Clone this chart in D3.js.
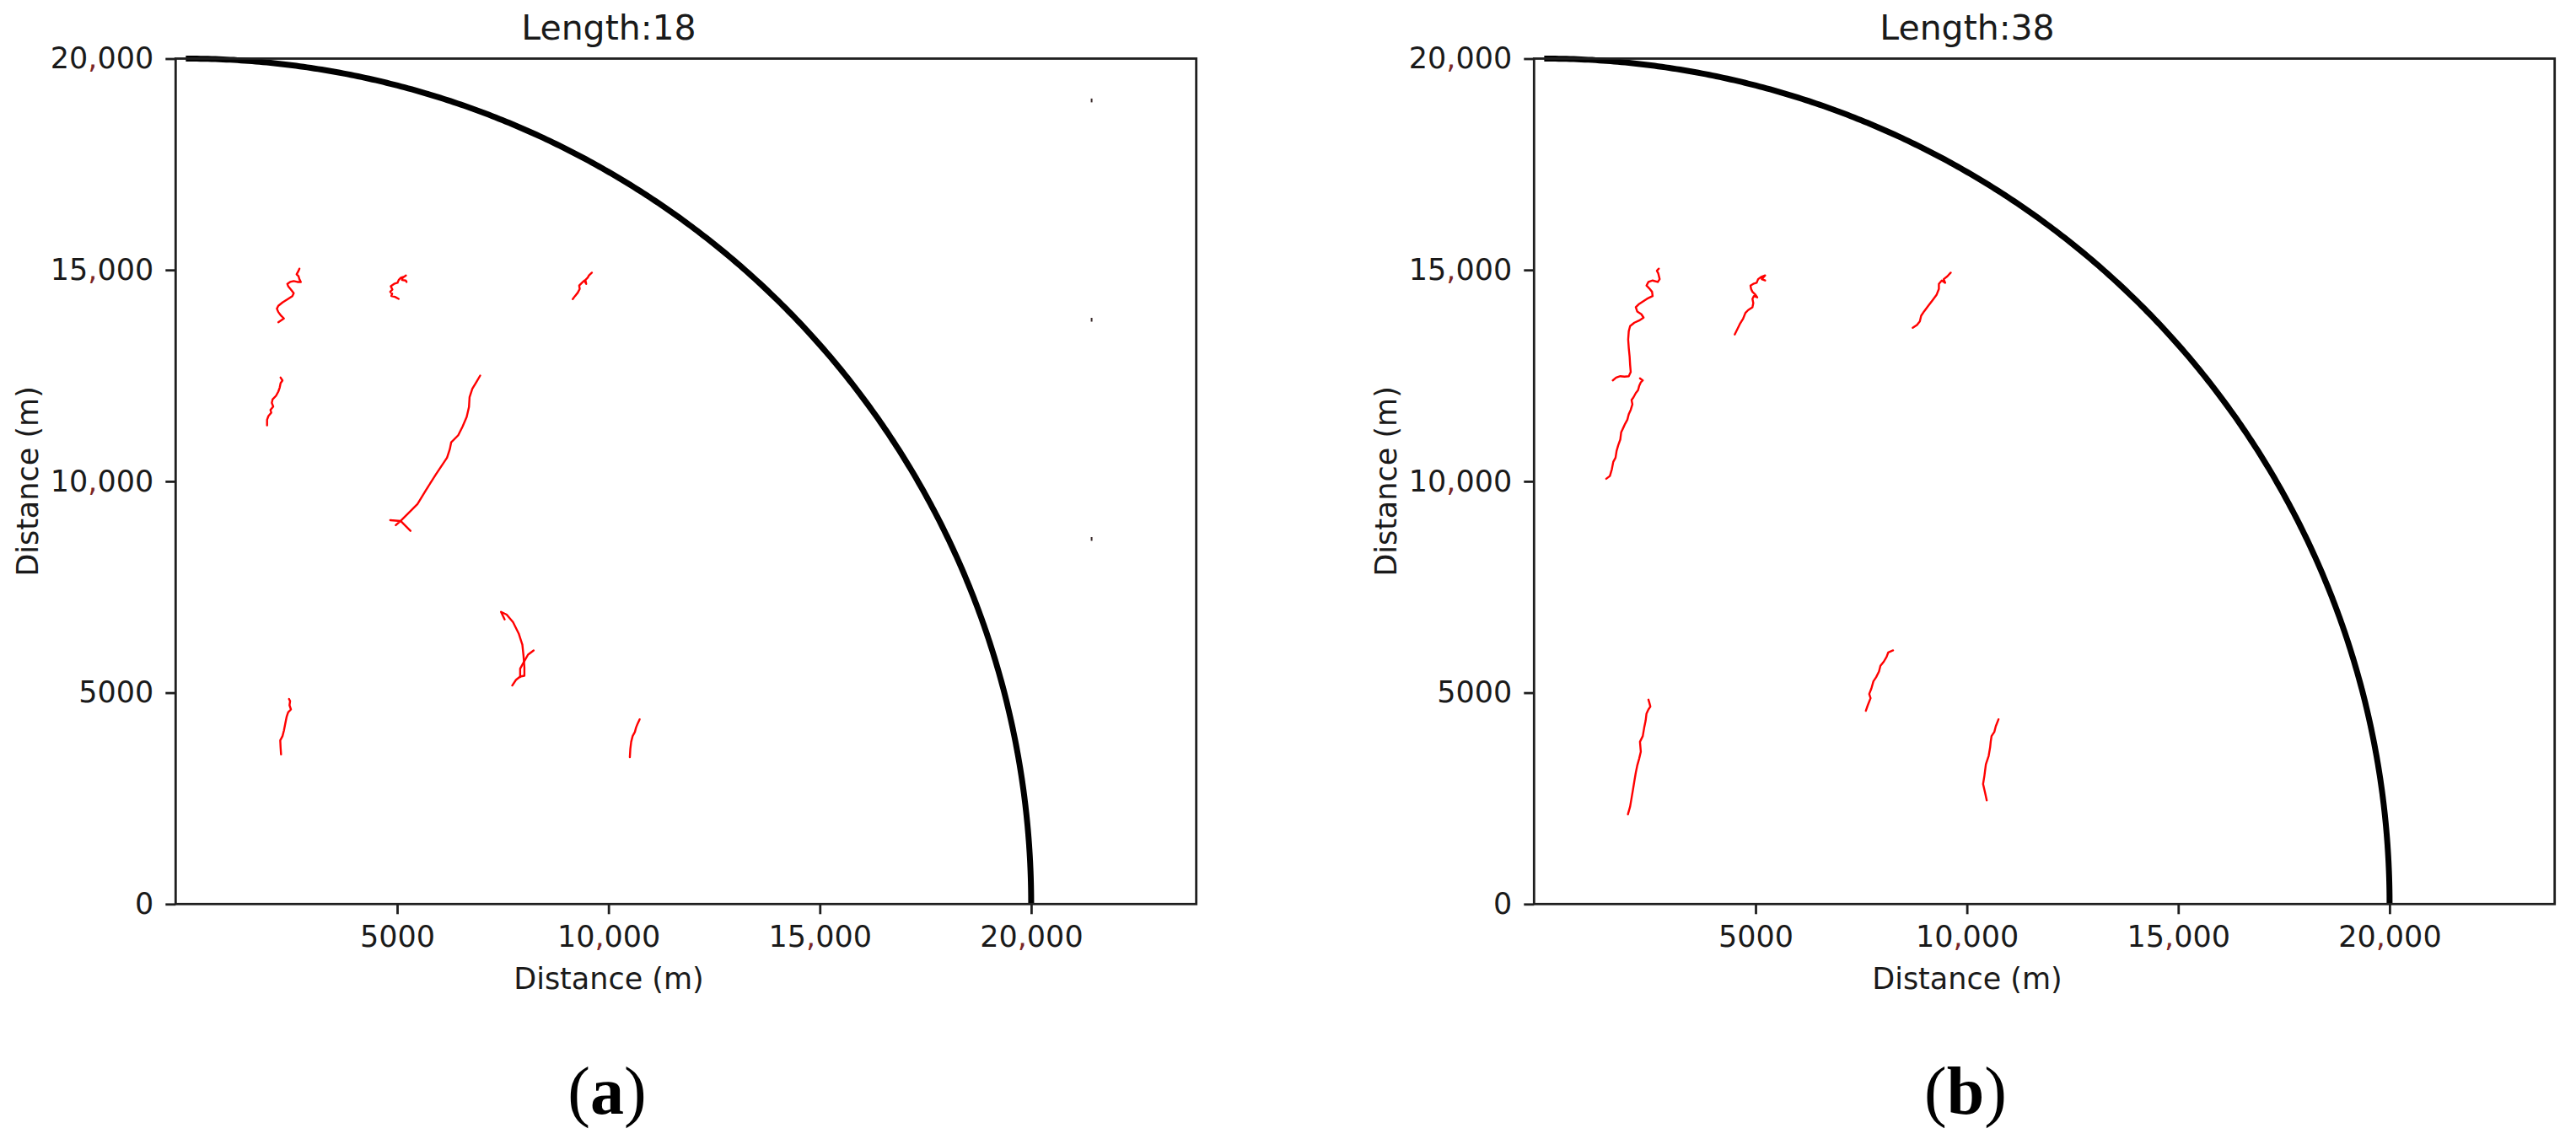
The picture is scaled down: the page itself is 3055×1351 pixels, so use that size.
<!DOCTYPE html>
<html>
<head>
<meta charset="utf-8">
<script src="https://cdn.jsdelivr.net/npm/d3@7"></script>
<style>
  html, body { margin: 0; padding: 0; background: #ffffff; }
  svg { display: block; }
</style>
</head>
<body>
<svg id="chart" width="3055" height="1351"></svg>
<script>
// ---------------- data ----------------
const panelTitles = ["Length:18", "Length:38"];
const panelCaptions = ["a", "b"];
const xTickValues = [5000, 10000, 15000, 20000];
const xTickLabels = ["5000", "10,000", "15,000", "20,000"];
const yTickValues = [0, 5000, 10000, 15000, 20000];
const yTickLabels = ["0", "5000", "10,000", "15,000", "20,000"];
const xLabel = "Distance (m)";
const yLabel = "Distance (m)";
const rangeRadius = 20000;   // detection boundary (quarter circle)
const xDomain = [-241, 23906];
const yDomain = [0, 20000];

// red trajectories, panel (a) Length:18
const tracksLength18 = [
  [[2188,13764],[2321,13852],[2253,13918],[2188,14004],[2154,14084],[2188,14152],[2287,14232],[2421,14317],[2521,14383],[2553,14451],[2487,14537],[2421,14617],[2401,14671],[2467,14716],[2553,14736],[2641,14716],[2721,14716],[2687,14782],[2667,14850],[2621,14896],[2667,14982],[2687,15030]],
  [[5036,14317],[4948,14363],[4862,14383],[4882,14437],[4836,14483],[4888,14537],[4848,14617],[4928,14671],[5008,14696],[5036,14762],[5088,14816],[5168,14842],[5208,14870],[5128,14816],[5116,14762],[5202,14751],[5222,14716]],
  [[9154,14311],[9208,14383],[9273,14463],[9319,14551],[9307,14631],[9373,14697],[9427,14750],[9473,14671],[9453,14762],[9507,14816],[9539,14870],[9607,14936]],
  [[1922,11323],[1922,11457],[1954,11543],[2022,11623],[2002,11689],[2068,11768],[2034,11856],[2054,11942],[2134,12022],[2188,12122],[2222,12221],[2242,12321],[2287,12387],[2242,12455]],
  [[4836,9082],[5082,9062],[4968,8962],[5082,9062],[5315,8828],[5082,9062],[5247,9227],[5481,9461],[5681,9792],[5914,10160],[6180,10559],[6245,10758],[6279,10924],[6445,11090],[6545,11289],[6645,11523],[6699,11756],[6713,11988],[6778,12188],[6878,12355],[6964,12501]],
  [[7723,5170],[7810,5301],[7910,5381],[8010,5401],[8010,5601],[7990,5868],[7962,6134],[7876,6399],[7742,6667],[7591,6846],[7457,6912],[7543,6733]],
  [[7910,5369],[7910,5569],[7990,5714],[8096,5900],[8229,6000]],
  [[10505,3473],[10517,3673],[10537,3838],[10571,3972],[10625,4072],[10651,4172],[10691,4271],[10737,4371]],
  [[2253,3539],[2242,3705],[2234,3872],[2287,3972],[2321,4104],[2353,4271],[2387,4437],[2421,4537],[2487,4603],[2453,4703],[2467,4802],[2441,4850]]
];
// tiny stray marks near the right border, panel (a)
const strayMarksLength18 = [[21430,19010],[21430,13822],[21430,8637]];

// red trajectories, panel (b) Length:38
const tracksLength38 = [
  [[1621,12387],[1701,12455],[1800,12487],[1900,12475],[2000,12487],[2046,12587],[2032,12754],[2020,12954],[2000,13154],[1986,13353],[2000,13553],[2032,13673],[2132,13752],[2246,13804],[2351,13872],[2299,13952],[2200,14018],[2166,14118],[2232,14184],[2331,14251],[2431,14317],[2565,14383],[2551,14483],[2485,14563],[2419,14631],[2465,14716],[2565,14750],[2685,14716],[2731,14782],[2699,14916],[2665,14982],[2711,15030]],
  [[1467,10060],[1553,10126],[1601,10291],[1633,10459],[1687,10559],[1713,10725],[1752,10858],[1800,10990],[1820,11158],[1866,11257],[1912,11357],[1966,11457],[2000,11589],[2046,11689],[2086,11822],[2066,11922],[2112,11988],[2166,12088],[2220,12156],[2246,12255],[2285,12341],[2331,12387],[2265,12435]],
  [[4507,13473],[4561,13585],[4627,13719],[4707,13852],[4760,13984],[4826,14052],[4926,14118],[4946,14218],[4926,14317],[4960,14383],[5040,14351],[4994,14417],[4926,14483],[4894,14551],[4880,14631],[4946,14671],[5026,14697],[5060,14782],[5126,14830],[5226,14870],[5146,14782],[5226,14750]],
  [[8719,13633],[8818,13699],[8886,13784],[8918,13918],[8986,14018],[9086,14152],[9186,14283],[9285,14417],[9337,14551],[9337,14671],[9405,14750],[9485,14697],[9451,14782],[9537,14850],[9617,14936]],
  [[1980,2122],[2032,2307],[2066,2507],[2100,2707],[2132,2906],[2166,3106],[2200,3273],[2246,3439],[2285,3605],[2265,3838],[2331,3972],[2365,4172],[2399,4337],[2419,4503],[2465,4603],[2511,4671],[2485,4770],[2465,4836]],
  [[7609,4571],[7655,4703],[7721,4870],[7689,4970],[7741,5102],[7788,5269],[7854,5369],[7920,5501],[7954,5635],[8034,5735],[8100,5848],[8140,5954],[8253,6000]],
  [[10469,2455],[10429,2641],[10383,2840],[10415,3040],[10449,3305],[10515,3505],[10549,3705],[10563,3838],[10583,3972],[10649,4072],[10683,4204],[10748,4371]]
];
const strayMarksLength38 = [];

const panelTracks = [tracksLength18, tracksLength38];
const panelStrays = [strayMarksLength18, strayMarksLength38];

// ---------------- layout ----------------
const FONT = "'DejaVu Sans', sans-serif";
const panelLeft = [208.3, 1819.3];
const plotW = 1210.4, plotTop = 69.5, plotH = 1002.8;
const commaColor = "#7b2626";
const inkColor = "#1a1a1a";

const svg = d3.select("#chart");
svg.append("rect").attr("width", 3055).attr("height", 1351).attr("fill", "#ffffff");

function colorCommas(sel) {
  sel.each(function () {
    const t = d3.select(this);
    const s = t.text();
    t.text(null);
    s.split(/(,)/).forEach(part => {
      if (part === "") return;
      t.append("tspan").attr("fill", part === "," ? commaColor : inkColor).text(part);
    });
  });
}

panelTitles.forEach((title, i) => {
  const g = svg.append("g").attr("transform", `translate(${panelLeft[i]},${plotTop})`);
  const x = d3.scaleLinear().domain(xDomain).range([0, plotW]);
  const y = d3.scaleLinear().domain(yDomain).range([plotH, 0]);

  // boundary arc
  const angles = d3.range(0, 90.01, 0.25).map(a => a * Math.PI / 180);
  const arcPts = angles.map(a => [rangeRadius * Math.cos(a), rangeRadius * Math.sin(a)]);
  const line = d3.line().x(d => x(d[0])).y(d => y(d[1]));
  g.append("path").datum(arcPts).attr("d", line)
    .attr("fill", "none").attr("stroke", "#000").attr("stroke-width", 7);

  // red tracks
  g.selectAll("path.track").data(panelTracks[i]).join("path")
    .attr("class", "track").attr("d", line)
    .attr("fill", "none").attr("stroke", "#ff0000").attr("stroke-width", 2.4)
    .attr("stroke-linejoin", "round").attr("stroke-linecap", "round");

  // stray marks
  g.selectAll("line.stray").data(panelStrays[i]).join("line")
    .attr("class", "stray")
    .attr("x1", d => x(d[0])).attr("x2", d => x(d[0]))
    .attr("y1", d => y(d[1] - 45)).attr("y2", d => y(d[1] + 45))
    .attr("stroke", "#3a2a2a").attr("stroke-width", 2);

  // frame
  g.append("rect").attr("x", 0).attr("y", 0).attr("width", plotW).attr("height", plotH)
    .attr("fill", "none").attr("stroke", "#1f1f1f").attr("stroke-width", 2.8);

  // axes
  const xAxis = d3.axisBottom(x).tickValues(xTickValues)
    .tickFormat((d, k) => xTickLabels[k]).tickSize(12).tickPadding(14);
  const yAxis = d3.axisLeft(y).tickValues(yTickValues)
    .tickFormat((d, k) => yTickLabels[k]).tickSize(12).tickPadding(14);

  const gx = g.append("g").attr("transform", `translate(0,${plotH})`).call(xAxis);
  const gy = g.append("g").call(yAxis);
  [gx, gy].forEach(ax => {
    ax.select(".domain").remove();
    ax.selectAll(".tick line").attr("stroke", "#1f1f1f").attr("stroke-width", 2.8);
    ax.selectAll(".tick text").attr("font-family", FONT).attr("font-size", 35).attr("fill", inkColor);
    ax.selectAll(".tick text").call(colorCommas);
  });

  // title
  const cx = 722 + (panelLeft[i] - panelLeft[0]) - panelLeft[i];
  g.append("text").attr("x", cx).attr("y", 47 - plotTop)
    .attr("text-anchor", "middle").attr("font-family", FONT).attr("font-size", 41)
    .attr("fill", inkColor).text(title);

  // x label
  g.append("text").attr("x", cx).attr("y", 1173 - plotTop)
    .attr("text-anchor", "middle").attr("font-family", FONT).attr("font-size", 35)
    .attr("fill", inkColor).text(xLabel);

  // y label
  g.append("text").attr("transform", `translate(${45 - 208.3},${571 - plotTop}) rotate(-90)`)
    .attr("text-anchor", "middle").attr("font-family", FONT).attr("font-size", 35)
    .attr("fill", inkColor).text(yLabel);

  // caption (a)/(b)
  const cap = g.append("text").attr("x", cx - 2).attr("y", 1321 - plotTop)
    .attr("text-anchor", "middle").attr("font-family", "'Liberation Serif', serif")
    .attr("font-size", 80).attr("fill", "#000");
  cap.append("tspan").text("(");
  cap.append("tspan").attr("font-weight", "bold").text(panelCaptions[i]);
  cap.append("tspan").text(")");
});
</script>
</body>
</html>
